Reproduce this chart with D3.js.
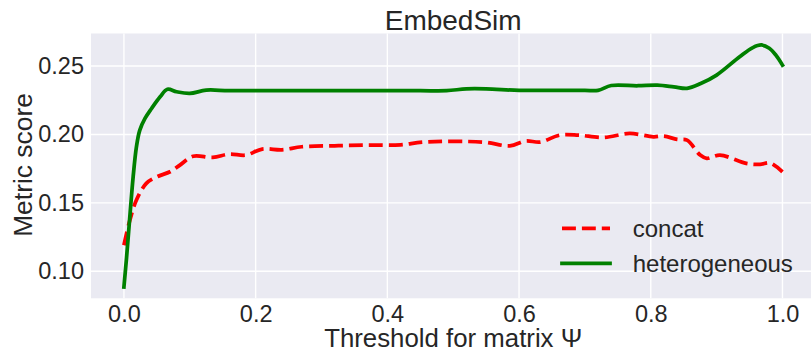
<!DOCTYPE html>
<html>
<head>
<meta charset="utf-8">
<script src="https://cdn.jsdelivr.net/npm/d3@7"></script>
<style>
  body { margin: 0; background: #fff; }
  text { font-family: "Liberation Sans", Arial, sans-serif; fill: #262626; }
</style>
</head>
<body>
<svg id="chart" width="811" height="350"></svg>
<script>
// threshold values and scores
const concatX = [0, 0.009, 0.019, 0.034, 0.05, 0.07, 0.085, 0.105, 0.135, 0.16, 0.185, 0.21, 0.24, 0.27, 0.32, 0.37, 0.42, 0.455, 0.545, 0.586, 0.61, 0.632, 0.662, 0.69, 0.728, 0.768, 0.804, 0.82, 0.84, 0.855, 0.875, 0.885, 0.905, 0.945, 0.966, 0.981, 1.0];
const concatY = [0.119, 0.1373, 0.152, 0.1642, 0.169, 0.1727, 0.1776, 0.1841, 0.1832, 0.1856, 0.1849, 0.1893, 0.1888, 0.191, 0.1917, 0.1922, 0.1924, 0.1944, 0.1944, 0.1917, 0.1953, 0.1944, 0.1995, 0.1995, 0.1978, 0.2007, 0.1983, 0.1988, 0.1964, 0.1958, 0.1849, 0.1825, 0.1849, 0.1788, 0.1781, 0.1792, 0.1727];

const heteroX = [0, 0.004, 0.009, 0.014, 0.019, 0.024, 0.032, 0.042, 0.055, 0.066, 0.08, 0.1, 0.125, 0.16, 0.25, 0.35, 0.45, 0.49, 0.52, 0.55, 0.6, 0.65, 0.7, 0.72, 0.74, 0.78, 0.81, 0.835, 0.855, 0.875, 0.9, 0.935, 0.955, 0.968, 0.98, 0.99, 1.0];
const heteroY = [0.0885, 0.110, 0.140, 0.169, 0.191, 0.203, 0.2117, 0.219, 0.2275, 0.233, 0.2312, 0.230, 0.2324, 0.232, 0.232, 0.232, 0.232, 0.232, 0.2333, 0.2333, 0.2322, 0.2322, 0.2322, 0.2322, 0.2358, 0.2356, 0.236, 0.2348, 0.2337, 0.237, 0.2434, 0.2568, 0.2635, 0.2654, 0.263, 0.258, 0.2507];

const xTicks = [0, 0.2, 0.4, 0.6, 0.8, 1.0];
const yTicks = [0.10, 0.15, 0.20, 0.25];

const seriesNames = ["concat", "heterogeneous"];
const seriesColors = ["#ff0000", "#008000"];

const svg = d3.select("#chart");
const plotLeft = 91, plotRight = 815.4, plotTop = 33.5, plotBottom = 298.3;

const x = d3.scaleLinear([-0.05, 1.05], [plotLeft, plotRight]);
const y = d3.scaleLinear([0.0802, 0.2738], [plotBottom, plotTop]);

// background
svg.append("rect")
    .attr("x", plotLeft).attr("y", plotTop)
    .attr("width", plotRight - plotLeft).attr("height", plotBottom - plotTop)
    .attr("fill", "#eaeaf2");

// grid
svg.append("g").selectAll("line")
    .data(xTicks)
    .join("line")
    .attr("x1", d => x(d)).attr("x2", d => x(d))
    .attr("y1", plotTop).attr("y2", plotBottom)
    .attr("stroke", "#fff").attr("stroke-width", 1.4);

svg.append("g").selectAll("line")
    .data(yTicks)
    .join("line")
    .attr("x1", plotLeft).attr("x2", plotRight)
    .attr("y1", d => y(d)).attr("y2", d => y(d))
    .attr("stroke", "#fff").attr("stroke-width", 1.4);

// axes (no tick marks, like seaborn darkgrid)
const xAxis = svg.append("g")
    .attr("transform", `translate(0,${plotBottom})`)
    .call(d3.axisBottom(x).tickValues(xTicks).tickFormat(d3.format(".1f")).tickSize(0).tickPadding(7));
xAxis.select(".domain").remove();
xAxis.selectAll("text")
    .attr("font-size", 23.5)
    .attr("font-family", "Liberation Sans, Arial, sans-serif")
    .attr("fill", "#262626")
    .attr("dy", "0.71em");

const yAxis = svg.append("g")
    .attr("transform", `translate(${plotLeft},0)`)
    .call(d3.axisLeft(y).tickValues(yTicks).tickFormat(d3.format(".2f")).tickSize(0).tickPadding(7));
yAxis.select(".domain").remove();
yAxis.selectAll("text")
    .attr("font-size", 23.5)
    .attr("font-family", "Liberation Sans, Arial, sans-serif")
    .attr("fill", "#262626");

// lines
const line = d3.line()
    .x(d => x(d[0]))
    .y(d => y(d[1]))
    .curve(d3.curveCatmullRom.alpha(0.5));

const concatData = concatX.map((d, i) => [d, concatY[i]]);
const heteroData = heteroX.map((d, i) => [d, heteroY[i]]);

svg.append("path")
    .datum(concatData)
    .attr("d", line)
    .attr("fill", "none")
    .attr("stroke", seriesColors[0])
    .attr("stroke-width", 3.75)
    .attr("stroke-dasharray", "13.9,6")
    .attr("stroke-linejoin", "round");

svg.append("path")
    .datum(heteroData)
    .attr("d", line)
    .attr("fill", "none")
    .attr("stroke", seriesColors[1])
    .attr("stroke-width", 3.75)
    .attr("stroke-linejoin", "round")
    .attr("stroke-linecap", "square");

// title and labels
svg.append("text")
    .attr("x", (plotLeft + plotRight) / 2).attr("y", 29.5)
    .attr("text-anchor", "middle")
    .attr("font-size", 28)
    .text("EmbedSim");

svg.append("text")
    .attr("x", (plotLeft + plotRight) / 2).attr("y", 346.5)
    .attr("text-anchor", "middle")
    .attr("font-size", 25.8)
    .text("Threshold for matrix Ψ");

svg.append("text")
    .attr("transform", "translate(31.5,165) rotate(-90)")
    .attr("text-anchor", "middle")
    .attr("font-size", 26.4)
    .text("Metric score");

// legend
const legend = svg.append("g").attr("transform", "translate(562,228.3)");
seriesNames.forEach((name, i) => {
    const row = legend.append("g").attr("transform", `translate(0,${i * 35})`);
    row.append("line")
        .attr("x1", 0).attr("x2", 48)
        .attr("y1", 0).attr("y2", 0)
        .attr("stroke", seriesColors[i])
        .attr("stroke-width", 3.75)
        .attr("stroke-dasharray", i == 0 ? "13.9,6" : null)
        .attr("stroke-linecap", i == 0 ? "butt" : "square");
    row.append("text")
        .attr("x", 70.7).attr("y", 8.4)
        .attr("font-size", 24)
        .text(name);
});
</script>
</body>
</html>
